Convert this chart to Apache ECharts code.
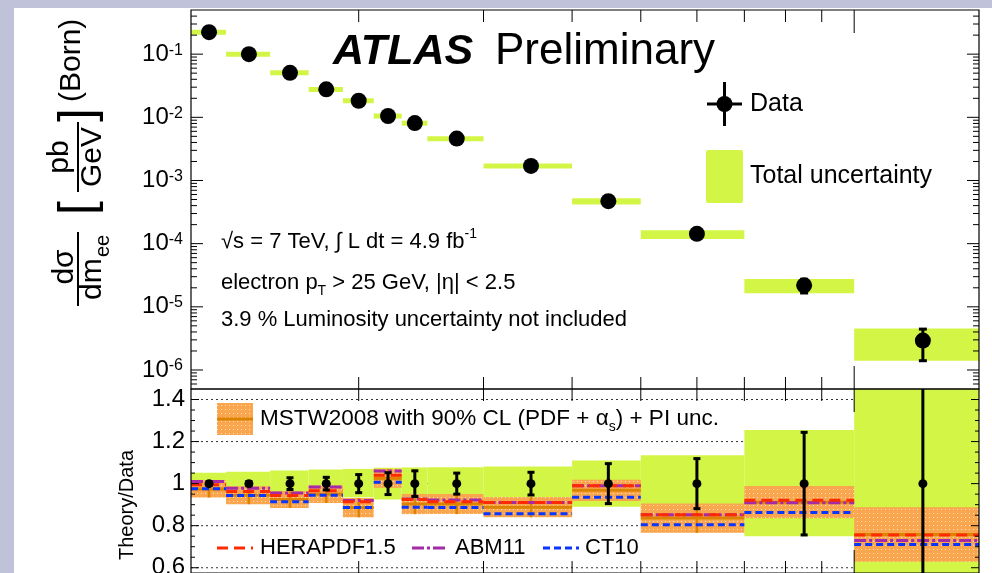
<!DOCTYPE html>
<html><head><meta charset="utf-8">
<script src="https://cdn.jsdelivr.net/npm/echarts@6/dist/echarts.min.js"></script>
<style>html,body{margin:0;padding:0;background:#fff}#c{width:992px;height:573px}</style>
</head><body><div id="c"></div>
<script>
// ---------------- data ----------------
const massEdges   = [116,130,150,170,190,210,230,250,300,400,500,700,1000,1500];
const massCenters = [123,140,160,180,200,220,240,275,350,450,600,850,1250];
const xsec    = [0.223,0.100,0.0507,0.0277,0.0183,0.0105,0.0081,0.0046,0.0017,4.7e-4,1.43e-4,2.19e-5,2.92e-6];
const statErr = [0.008,0.010,0.028,0.030,0.043,0.052,0.061,0.050,0.054,0.095,0.119,0.244,0.52];
const totUp   = [0.052,0.056,0.062,0.067,0.070,0.075,0.077,0.078,0.082,0.110,0.135,0.255,0.55];
const totDn   = [0.050,0.055,0.060,0.065,0.065,0.075,0.077,0.078,0.085,0.110,0.170,0.250,0.52];
const mstw    = [0.975,0.945,0.924,0.950,0.886,1.025,0.903,0.903,0.888,0.968,0.836,0.912,0.758];
const mstwErr = [0.041,0.043,0.040,0.042,0.046,0.045,0.048,0.048,0.048,0.051,0.070,0.077,0.130];
const hera    = [0.995,0.962,0.943,0.966,0.914,1.040,0.924,0.914,0.910,0.990,0.852,0.921,0.756];
const abm     = [1.010,0.978,0.956,0.984,0.920,1.060,0.927,0.922,0.910,0.990,0.852,0.909,0.730];
const ct10    = [0.976,0.943,0.914,0.945,0.886,1.006,0.888,0.886,0.857,0.935,0.804,0.863,0.711];
const dataRatio = [1,1,1,1,1,1,1,1,1,1,1,1,1];
const xTickValues   = [200,300,400,500,600,700,800,900,1000];
const yTopTickExps  = [-1,-2,-3,-4,-5,-6];
const yBotTickLabels = [0.6,0.8,1,1.2,1.4];

// ---------------- style ----------------
const FONT = "'Liberation Sans', Arial, Helvetica, sans-serif";
const GREEN = '#d3f646', ORANGE_DARK = '#dc8300';
const RED = '#ff2a00', PURPLE = '#a42aa8', BLUE = '#0a35ff';
const pc = document.createElement('canvas'); pc.width = 4; pc.height = 4;
const pg = pc.getContext('2d'); pg.fillStyle = '#f9a64f'; pg.fillRect(0,0,4,4);
pg.fillStyle = '#fde2bd'; pg.fillRect(1,1,1,1);
const orangePattern = {image: pc, repeat: 'repeat'};

// ---------------- helpers ----------------
const YTOP_MIN = 5e-7, YTOP_MAX = 0.5, YBOT_MIN = 0.575, YBOT_MAX = 1.45;
function tickData(panel) {
  const out = [];
  const yRef = panel === 0 ? 0.01 : 1;
  xTickValues.forEach(v => out.push([v, yRef, 0, v === 1000 ? 23 : 12]));
  if (panel === 0) {
    for (let e = -7; e <= -1; e++) for (let m = 1; m <= 9; m++) {
      const v = m * Math.pow(10, e);
      if (v > YTOP_MIN && v < YTOP_MAX) out.push([200, v, 1, m === 1 ? 12 : 6]);
    }
  } else {
    for (let k = 12; k <= 28; k++) { const v = k * 0.05; out.push([200, v, 1, (k % 4 === 0) ? 8 : 4]); }
  }
  return out;
}
function tickRender(params, api) {
  const cs = params.coordSys;
  const kind = api.value(2), len = api.value(3);
  const st = {stroke: '#000', lineWidth: 1};
  const p = api.coord([api.value(0), api.value(1)]);
  if (kind === 0) {
    return {type:'group', children:[
      {type:'line', shape:{x1:p[0], y1:cs.y, x2:p[0], y2:cs.y+len}, style:st},
      {type:'line', shape:{x1:p[0], y1:cs.y+cs.height, x2:p[0], y2:cs.y+cs.height-len}, style:st}]};
  }
  return {type:'group', children:[
    {type:'line', shape:{x1:cs.x, y1:p[1], x2:cs.x+len, y2:p[1]}, style:st},
    {type:'line', shape:{x1:cs.x+cs.width-len, y1:p[1], x2:cs.x+cs.width, y2:p[1]}, style:st}]};
}
function bandRender(minH) { return function(params, api) {
  const a = api.coord([api.value(0), api.value(3)]);
  const b = api.coord([api.value(1), api.value(2)]);
  let y = a[1], h = b[1] - a[1];
  if (h < minH) { y = (a[1] + b[1]) / 2 - minH / 2; h = minH; }
  return {type:'rect', shape:{x:a[0], y:y, width:b[0]-a[0], height:h}, style:{fill:GREEN}};
};}
function errRender(lw, cap) { return function(params, api) {
  const a = api.coord([api.value(0), api.value(2)]);
  const b = api.coord([api.value(0), api.value(1)]);
  const st = {stroke:'#000', lineWidth:lw};
  return {type:'group', children:[
    {type:'line', shape:{x1:a[0], y1:a[1], x2:b[0], y2:b[1]}, style:st},
    {type:'line', shape:{x1:a[0]-cap, y1:a[1], x2:a[0]+cap, y2:a[1]}, style:st},
    {type:'line', shape:{x1:b[0]-cap, y1:b[1], x2:b[0]+cap, y2:b[1]}, style:st}]};
};}
function hLineRender(color, dash) { return function(params, api) {
  const a = api.coord([api.value(0), api.value(2)]);
  const b = api.coord([api.value(1), api.value(2)]);
  return {type:'line', shape:{x1:a[0], y1:a[1], x2:b[0], y2:b[1]}, style:{stroke:color, lineWidth:3, lineDash:dash}};
};}
function mstwRender(params, api) {
  const lo = api.value(0), hi = api.value(1), c = api.value(2), e = api.value(3), mid = api.value(4);
  const a = api.coord([lo, c + e]), b = api.coord([hi, c - e]);
  const l1 = api.coord([lo, c]), l2 = api.coord([hi, c]);
  const m1 = api.coord([mid, c + e]), m2 = api.coord([mid, c - e]);
  return {type:'group', children:[
    {type:'rect', shape:{x:a[0], y:a[1], width:b[0]-a[0], height:b[1]-a[1]}, style:{fill:orangePattern}},
    {type:'line', shape:{x1:l1[0], y1:l1[1], x2:l2[0], y2:l2[1]}, style:{stroke:ORANGE_DARK, lineWidth:3}},
    {type:'line', shape:{x1:m1[0], y1:m1[1], x2:m2[0], y2:m2[1]}, style:{stroke:ORANGE_DARK, lineWidth:2.5}}]};
}
function gridLineRender(params, api) {
  const cs = params.coordSys;
  const p = api.coord([200, api.value(0)]);
  return {type:'line', shape:{x1:cs.x, y1:p[1], x2:cs.x+cs.width, y2:p[1]}, style:{stroke:'#333', lineWidth:1, lineDash:[2,3]}};
}

const topBand = massCenters.map((m,i)=>[massEdges[i], massEdges[i+1], xsec[i]*(1-totDn[i]), xsec[i]*(1+totUp[i])]);
const topErr  = massCenters.map((m,i)=>[m, xsec[i]*(1-statErr[i]), xsec[i]*(1+statErr[i])]);
const topPts  = massCenters.map((m,i)=>[m, xsec[i]]);
const botBand = massCenters.map((m,i)=>[massEdges[i], massEdges[i+1], dataRatio[i]-totDn[i], dataRatio[i]+totUp[i]]);
const botErr  = massCenters.map((m,i)=>[m, dataRatio[i]-statErr[i], dataRatio[i]+statErr[i]]);
const botPts  = massCenters.map((m,i)=>[m, dataRatio[i]]);
const mstwRows = massCenters.map((m,i)=>[massEdges[i], massEdges[i+1], mstw[i], mstwErr[i], m]);
const lineRows = arr => massCenters.map((m,i)=>[massEdges[i], massEdges[i+1], arr[i]]);

const chart = echarts.init(document.getElementById('c'), null, {renderer:'canvas'});
const txt = (extra) => Object.assign({fill:'#000', fontFamily:FONT}, extra);
const MID = {textVerticalAlign:'middle', verticalAlign:'middle'};

const option = {
  animation: false,
  backgroundColor: '#ffffff',
  grid: [
    {left:191, top:10, width:788, height:379, show:true, z:10, outerBoundsMode:'none', backgroundColor:'transparent', borderColor:'#000', borderWidth:1.2},
    {left:191, top:389, width:788, height:184, show:true, z:10, outerBoundsMode:'none', backgroundColor:'transparent', borderColor:'#000', borderWidth:1.2}
  ],
  xAxis: [0,1].map(g => ({type:'log', logBase:10, gridIndex:g, min:116, max:1500,
    axisLine:{show:false}, axisTick:{show:false}, axisLabel:{show:false}, splitLine:{show:false}})),
  yAxis: [
    {type:'log', logBase:10, gridIndex:0, min:YTOP_MIN, max:YTOP_MAX,
     axisLine:{show:false}, axisTick:{show:false}, splitLine:{show:false},
     axisLabel:{margin:8, showMinLabel:false, showMaxLabel:false,
       formatter: v => { const l = Math.log10(v), e = Math.round(l);
         if (Math.abs(l - e) > 1e-6 || yTopTickExps.indexOf(e) < 0) return '';
         return '{b|10}{s|' + e + '}'; },
       rich:{ b:{fontSize:24, fontFamily:FONT, color:'#000', lineHeight:24, verticalAlign:'bottom', padding:[8,0,0,0]},
              s:{fontSize:16, fontFamily:FONT, color:'#000', lineHeight:16, verticalAlign:'top'} } }},
    {type:'value', gridIndex:1, min:YBOT_MIN, max:YBOT_MAX, interval:0.025,
     axisLine:{show:false}, axisTick:{show:false}, splitLine:{show:false},
     axisLabel:{margin:6, fontSize:24, fontFamily:FONT, color:'#000', showMinLabel:false, showMaxLabel:false,
       formatter: v => { const r = Math.round(v*1000)/1000; return yBotTickLabels.some(t => Math.abs(t - r) < 1e-6) ? String(r) : ''; } }}
  ],
  series: [
    {type:'custom', xAxisIndex:0, yAxisIndex:0, z:2, renderItem:bandRender(5), data:topBand, encode:{x:[0,1], y:[2,3]}},
    {type:'custom', xAxisIndex:0, yAxisIndex:0, z:3, renderItem:errRender(3,4), data:topErr, encode:{x:0, y:[1,2]}},
    {type:'scatter', xAxisIndex:0, yAxisIndex:0, z:4, symbol:'circle', symbolSize:16, itemStyle:{color:'#000', opacity:1}, data:topPts, silent:true},
    {type:'custom', xAxisIndex:0, yAxisIndex:0, z:6, renderItem:tickRender, data:tickData(0), encode:{x:0, y:1}},

    {type:'custom', xAxisIndex:1, yAxisIndex:1, z:1, renderItem:gridLineRender, data:yBotTickLabels.map(v=>[v]), encode:{y:0}},
    {type:'custom', xAxisIndex:1, yAxisIndex:1, z:2, clip:true, renderItem:bandRender(0), data:botBand, encode:{x:[0,1], y:[2,3]}},
    {type:'custom', xAxisIndex:1, yAxisIndex:1, z:3, clip:true, renderItem:mstwRender, data:mstwRows, encode:{x:[0,1,4], y:[2]}},
    {type:'custom', xAxisIndex:1, yAxisIndex:1, z:4, clip:true, renderItem:hLineRender(PURPLE,[12,3,3,3]), data:lineRows(abm), encode:{x:[0,1], y:2}},
    {type:'custom', xAxisIndex:1, yAxisIndex:1, z:4, clip:true, renderItem:hLineRender(RED,[11,6]), data:lineRows(hera), encode:{x:[0,1], y:2}},
    {type:'custom', xAxisIndex:1, yAxisIndex:1, z:4, clip:true, renderItem:hLineRender(BLUE,[7,4]), data:lineRows(ct10), encode:{x:[0,1], y:2}},
    {type:'custom', xAxisIndex:1, yAxisIndex:1, z:5, clip:true, renderItem:errRender(3,3.5), data:botErr, encode:{x:0, y:[1,2]}},
    {type:'scatter', xAxisIndex:1, yAxisIndex:1, z:6, symbol:'circle', symbolSize:9, itemStyle:{color:'#000', opacity:1}, data:botPts, silent:true},
    {type:'custom', xAxisIndex:1, yAxisIndex:1, z:7, renderItem:tickRender, data:tickData(1), encode:{x:0, y:1}}
  ],
  graphic: [
    {type:'rect', z:0, shape:{x:0, y:0, width:14, height:573}, style:{fill:'#c0c2d9'}},
    {type:'rect', z:0, shape:{x:0, y:0, width:992, height:8}, style:{fill:'#c0c2d9'}},
    // y title top (rotated)
    {type:'group', x:78, y:310, rotation:Math.PI/2, z:20, children:[
      {type:'text', x:43, y:-13, style:txt(Object.assign({text:'dσ', fontSize:30, textAlign:'center', align:'center'}, MID))},
      {type:'line', shape:{x1:4, y1:0, x2:78, y2:0}, style:{stroke:'#000', lineWidth:2}},
      {type:'text', x:10, y:15, style:txt(Object.assign({text:'dm', fontSize:30, textAlign:'left', align:'left'}, MID))},
      {type:'text', x:53, y:25, style:txt(Object.assign({text:'ee', fontSize:20, textAlign:'left', align:'left'}, MID))},
      {type:'text', x:102, y:1, style:txt(Object.assign({text:'[', fontSize:50, textAlign:'center', align:'center'}, MID))},
      {type:'text', x:153, y:-18, style:txt(Object.assign({text:'pb', fontSize:30, textAlign:'center', align:'center'}, MID))},
      {type:'line', shape:{x1:118, y1:0, x2:188, y2:0}, style:{stroke:'#000', lineWidth:2}},
      {type:'text', x:153, y:15, style:txt(Object.assign({text:'GeV', fontSize:30, textAlign:'center', align:'center'}, MID))},
      {type:'text', x:195, y:1, style:txt(Object.assign({text:']', fontSize:50, textAlign:'center', align:'center'}, MID))},
      {type:'text', x:208, y:-6, style:txt(Object.assign({text:'(Born)', fontSize:30, textAlign:'left', align:'left'}, MID))}
    ]},
    {type:'text', x:127, y:505, rotation:Math.PI/2, z:20, style:txt(Object.assign({text:'Theory/Data', fontSize:20, textAlign:'center', align:'center'}, MID))},
    // ATLAS label
    {type:'text', x:333, y:52, z:20, style:txt(Object.assign({text:'ATLAS', fontSize:43, fontWeight:'bold', fontStyle:'italic'}, MID))},
    {type:'text', x:495, y:52, z:20, style:txt(Object.assign({text:'Preliminary', fontSize:44}, MID))},
    // top legend
    {type:'line', z:20, shape:{x1:707, y1:104, x2:742, y2:104}, style:{stroke:'#000', lineWidth:3}},
    {type:'line', z:20, shape:{x1:724.5, y1:82, x2:724.5, y2:126}, style:{stroke:'#000', lineWidth:3}},
    {type:'circle', z:20, shape:{cx:724.5, cy:104, r:8}, style:{fill:'#000'}},
    {type:'text', x:750, y:104, z:20, style:txt(Object.assign({text:'Data', fontSize:25}, MID))},
    {type:'rect', z:20, shape:{x:706, y:150, width:37, height:53, r:2}, style:{fill:GREEN}},
    {type:'text', x:750, y:176, z:20, style:txt(Object.assign({text:'Total uncertainty', fontSize:25}, MID))},
    // annotations
    {type:'text', x:221, y:242, z:20, style:txt(Object.assign({text:'{a|√s = 7 TeV, ∫ L dt = 4.9 fb}{p|-1}',
      rich:{a:{fontSize:22, fontFamily:FONT, color:'#000', lineHeight:30}, p:{fontSize:14, fontFamily:FONT, color:'#000', lineHeight:16, verticalAlign:'top'}}}, MID))},
    {type:'text', x:221, y:283, z:20, style:txt(Object.assign({text:'{a|electron p}{u|T}{a| > 25 GeV, |η| < 2.5}',
      rich:{a:{fontSize:22, fontFamily:FONT, color:'#000', lineHeight:30}, u:{fontSize:14, fontFamily:FONT, color:'#000', lineHeight:16, verticalAlign:'bottom'}}}, MID))},
    {type:'text', x:221, y:320, z:20, style:txt(Object.assign({text:'3.9 % Luminosity uncertainty not included', fontSize:22}, MID))},
    // bottom legend
    {type:'rect', z:20, shape:{x:217, y:403, width:36, height:32}, style:{fill:orangePattern}},
    {type:'line', z:20, shape:{x1:217, y1:419, x2:253, y2:419}, style:{stroke:ORANGE_DARK, lineWidth:3}},
    {type:'text', x:260, y:419, z:20, style:txt(Object.assign({text:'{a|MSTW2008 with 90% CL (PDF + α}{u|s}{a|) + PI unc.}',
      rich:{a:{fontSize:22.5, fontFamily:FONT, color:'#000', lineHeight:30}, u:{fontSize:14, fontFamily:FONT, color:'#000', lineHeight:16, verticalAlign:'bottom'}}}, MID))},
    {type:'line', z:20, shape:{x1:217, y1:548, x2:253, y2:548}, style:{stroke:RED, lineWidth:3, lineDash:[11,6]}},
    {type:'text', x:260, y:548, z:20, style:txt(Object.assign({text:'HERAPDF1.5', fontSize:22}, MID))},
    {type:'line', z:20, shape:{x1:412, y1:548, x2:448, y2:548}, style:{stroke:PURPLE, lineWidth:3, lineDash:[12,3,3,3]}},
    {type:'text', x:455, y:548, z:20, style:txt(Object.assign({text:'ABM11', fontSize:22}, MID))},
    {type:'line', z:20, shape:{x1:543, y1:548, x2:579, y2:548}, style:{stroke:BLUE, lineWidth:3, lineDash:[7,4]}},
    {type:'text', x:585, y:548, z:20, style:txt(Object.assign({text:'CT10', fontSize:22}, MID))}
  ]
};
chart.setOption(option);
</script></body></html>
